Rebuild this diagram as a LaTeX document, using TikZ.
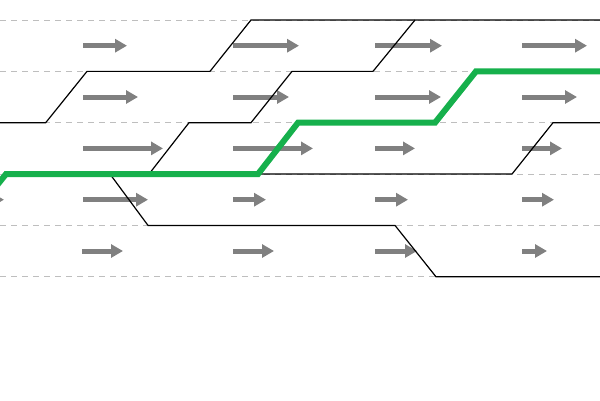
\documentclass[tikz,border=0pt]{standalone}
\usetikzlibrary{arrows.meta}
\definecolor{lanegray}{RGB}{190,190,190}
\definecolor{arrowgray}{RGB}{128,128,128}
\definecolor{pathgreen}{RGB}{22,176,76}
\begin{document}
\begin{tikzpicture}[x=1pt,y=-1pt,
  laneline/.style={draw=lanegray,line width=1pt,dash pattern=on 6pt off 5pt},
  flow/.style={draw=arrowgray,line width=5pt,-{Triangle[length=12pt,width=13pt]}},
  track/.style={draw=black,line width=1.2pt,line join=miter},
  route/.style={draw=pathgreen,line width=6pt,line join=miter}]
\useasboundingbox (0,0) rectangle (600,400);
\clip (0,0) rectangle (600,400);
% lane boundaries
\foreach \y in {20,71.35,122.7,174.05,225.4,276.75}
  \draw[laneline] (0,\y) -- (600,\y);
% flow arrows
\foreach \xa/\xb/\y in {83/127/45.7, 233/299/45.7, 375/442/45.7, 522/587/45.7,
                        83/138/97, 233/289/97, 375/441/97, 522/577/97,
                        83/163/148.4, 233/313/148.4, 375/415/148.4, 522/562/148.4,
                        -40/4/199.7, 83/148/199.7, 233/266/199.7, 375/408/199.7, 522/554/199.7,
                        82/123/251, 233/274/251, 375/417/251, 522/547/251}
  \draw[flow] (\xa,\y) -- (\xb,\y);
% black tracks
\draw[track] (-5,122.7) -- (45.7,122.7) -- (87,71.35) -- (210,71.35) -- (251,20) -- (605,20);
\draw[track] (149,174.05) -- (189,122.7) -- (251,122.7) -- (292,71.35) -- (373,71.35) -- (415,20);
\draw[track] (258,174.05) -- (512,174.05) -- (553,122.7) -- (605,122.7);
\draw[track] (110,174.05) -- (148,225.4) -- (395,225.4) -- (436,276.75) -- (605,276.75);
% green route
\draw[route] (-10,194) -- (6,174.05) -- (258,174.05) -- (298,122.7) -- (435,122.7) -- (476,71.35) -- (610,71.35);
\end{tikzpicture}
\end{document}
